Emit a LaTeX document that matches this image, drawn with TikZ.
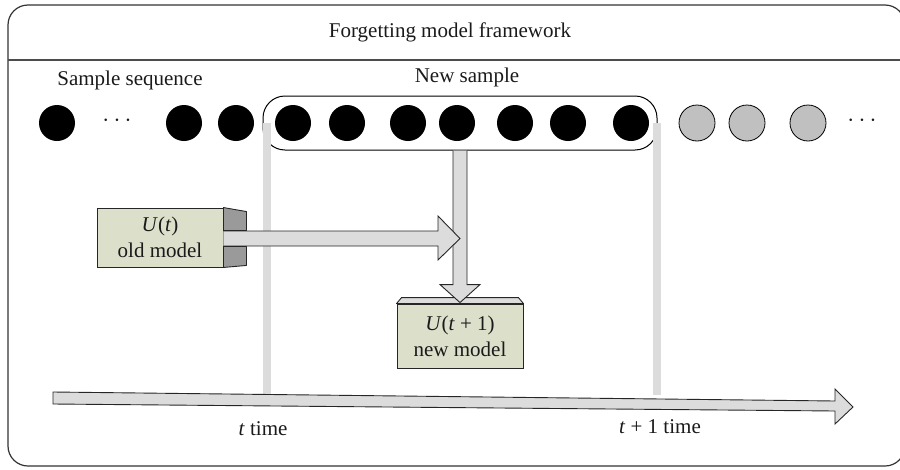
\documentclass[tikz,border=0pt]{standalone}
\usepackage{fontspec}
\setmainfont{Liberation Serif}
\usetikzlibrary{calc}
\definecolor{boxfill}{HTML}{DCE0CB}
\definecolor{barfill}{HTML}{DCDCDC}
\definecolor{darkside}{HTML}{9A9A9A}
\definecolor{greyball}{HTML}{C0C0C0}
\definecolor{txt}{HTML}{1A1A1A}
\tikzset{
  lbl/.style={font=\fontsize{21}{26}\selectfont, text=txt, inner sep=0pt, align=center},
  dotslbl/.style={font=\fontsize{26}{26}\selectfont, text=txt, inner sep=0pt},
  ball/.style={circle, fill=black, minimum size=36pt, inner sep=0pt},
  greyb/.style={circle, fill=greyball, draw=black, line width=0.8pt, minimum size=36pt, inner sep=0pt},
  modelbox/.style={rectangle, draw=black!85, line width=0.9pt, fill=boxfill, inner sep=0pt, font=\fontsize{21}{26}\selectfont, text=txt, align=center},
  blockarrow/.style={fill=barfill, draw=black!85, line width=0.9pt, line join=miter},
  timebar/.style={fill=barfill, draw=none}
}
\begin{document}
\begin{tikzpicture}[x=1pt,y=-1pt]
\useasboundingbox (0,0) rectangle (900,469);
\clip (0,0) rectangle (900,469);
% frame
\draw[draw=black!80, line width=1.2pt, rounded corners=20pt] (8,5) rectangle (905,466);
\draw[draw=black!70, line width=1.6pt] (8,60) -- (905,60);
\node[lbl] (title) at (450,32) {Forgetting model framework};
\node[lbl] (seq) at (130,80) {Sample sequence};
\node[lbl] (nsl) at (467,77) {New sample};
% new sample group
\node[draw=black, line width=1pt, rounded corners=22pt, minimum width=394pt, minimum height=54pt, inner sep=0pt] (ns) at (460,123) {};
% balls
\node[ball] (c1) at (57,123) {};
\node[dotslbl] (d1) at (117,121) {$\cdots$};
\node[ball] (c2) at (184,123) {};
\node[ball] (c3) at (236,123) {};
\node[ball] (c4) at (293,123) {};
\node[ball] (c5) at (347,123) {};
\node[ball] (c6) at (408,123) {};
\node[ball] (c7) at (457,123) {};
\node[ball] (c8) at (515,123) {};
\node[ball] (c9) at (568,123) {};
\node[ball] (c10) at (631,123) {};
\node[greyb] (g1) at (697,123) {};
\node[greyb] (g2) at (747,123) {};
\node[greyb] (g3) at (808,123) {};
\node[dotslbl] (d2) at (862,121) {$\cdots$};
% vertical time bars
\coordinate (tb1) at (267,123);
\coordinate (tb2) at (657,123);
\fill[timebar] ($(tb1)+(-4,0)$) rectangle ($(tb1)+(4,272)$);
\fill[timebar] ($(tb2)+(-4,0)$) rectangle ($(tb2)+(4,272)$);
% boxes
\node[modelbox, minimum width=126pt, minimum height=59pt] (old) at (160,237.5) {\textit{U}(\textit{t})\\old model};
\node[modelbox, minimum width=126pt, minimum height=64pt] (new) at (460,336) {\textit{U}(\textit{t} + 1)\\new model};
% top face of new box
\draw[fill=barfill, draw=black!85, line width=0.9pt, line join=round]
  (new.north west) -- ++(5,-6) -- ($(new.north east)+(-5,-6)$) -- (new.north east) -- cycle;
% vertical arrow from new sample to new model
\draw[blockarrow]
  ($(ns.south)+(-7,0)$) -- ($(new.north)+(-7,-19)$) -- ($(new.north)+(-20,-19)$)
  -- ($(new.north)+(0,-1)$) -- ($(new.north)+(20,-19)$) -- ($(new.north)+(7,-19)$)
  -- ($(ns.south)+(7,0)$);
% horizontal arrow from old model
\coordinate (tip) at (460,238.5);
\draw[blockarrow]
  ($(old.east)+(0,-6.5)$) -- ($(tip)+(-22,-7.5)$) -- ($(tip)+(-22,-22.5)$)
  -- (tip) -- ($(tip)+(-22,21.5)$) -- ($(tip)+(-22,7.5)$) -- ($(old.east)+(0,8.5)$);
% dark side face of old box
\draw[fill=darkside, draw=black!85, line width=0.9pt, line join=round]
  (old.north east) -- ++(23,4) -- ($(old.east)+(23,-7)$) -- ($(old.east)+(0,-7)$) -- cycle;
\draw[fill=darkside, draw=black!85, line width=0.9pt, line join=round]
  (old.south east) -- ++(23,-2) -- ($(old.east)+(23,9)$) -- ($(old.east)+(0,9)$) -- cycle;
% time axis
\coordinate (ts) at (53,398);
\coordinate (te) at (853,407);
\draw[blockarrow]
  ($(ts)+(0,-6)$) -- (835,401) -- (835,389) -- (te) -- (835,424) -- (835,411) -- ($(ts)+(0,6)$) -- cycle;
\node[lbl] (tl1) at (263,429) {\textit{t} time};
\node[lbl] (tl2) at (660,427) {\textit{t} + 1 time};
\end{tikzpicture}
\end{document}
